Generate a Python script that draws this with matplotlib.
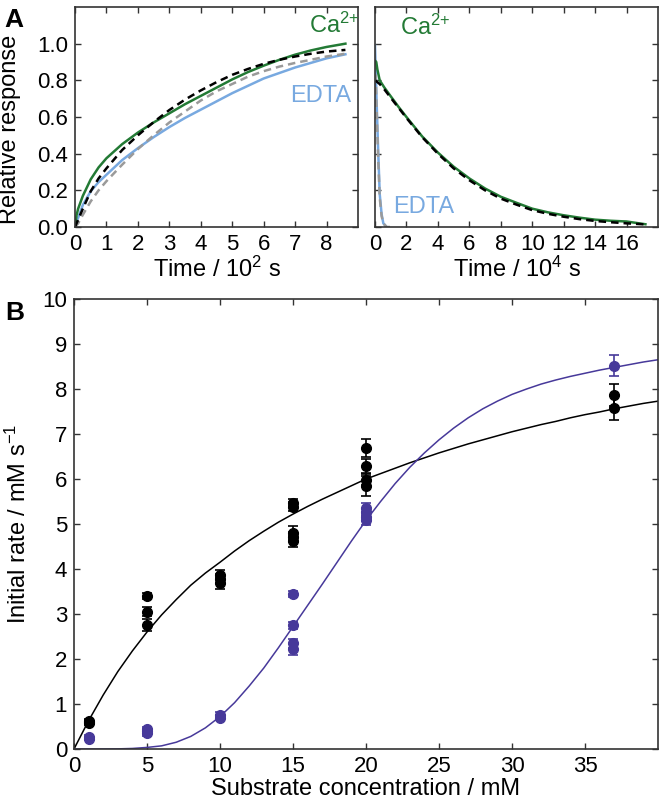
import matplotlib
matplotlib.use("Agg")
import matplotlib.pyplot as plt

plt.rcParams['font.family'] = ['Liberation Sans', 'DejaVu Sans']
plt.rcParams['mathtext.fontset'] = 'custom'
plt.rcParams['mathtext.rm'] = 'Liberation Sans'
plt.rcParams['mathtext.default'] = 'regular'

# panel A, left: association (time in 10^2 s)
t_on = [0, 0.05, 0.1, 0.25, 0.5, 0.75, 1, 1.5, 2, 2.5, 3, 3.5, 4, 4.5, 5, 5.5, 6, 6.5, 7, 7.5, 8, 8.6]
ca_on = [0, 0.065, 0.10, 0.17, 0.26, 0.325, 0.375, 0.452, 0.515, 0.57, 0.62, 0.67, 0.715, 0.76,
         0.805, 0.845, 0.88, 0.912, 0.94, 0.963, 0.982, 1.0]
ca_on_fit = [0, 0.02, 0.04, 0.10, 0.195, 0.265, 0.32, 0.42, 0.50, 0.572, 0.638, 0.695, 0.745, 0.79,
             0.83, 0.862, 0.89, 0.912, 0.93, 0.945, 0.957, 0.966]
edta_on = [0, 0.03, 0.05, 0.12, 0.195, 0.245, 0.285, 0.365, 0.43, 0.49, 0.545, 0.595, 0.64, 0.685,
           0.73, 0.77, 0.81, 0.84, 0.87, 0.895, 0.92, 0.942]
edta_on_fit = [0, 0.01, 0.02, 0.067, 0.14, 0.20, 0.25, 0.34, 0.425, 0.50, 0.57, 0.63, 0.69, 0.74,
               0.78, 0.82, 0.85, 0.875, 0.895, 0.912, 0.93, 0.945]

# panel A, right: dissociation (time in 10^4 s)
t_off = [0.03, 0.08, 0.15, 0.3, 0.6, 1, 1.5, 2, 3, 4, 5, 6, 7, 8, 9, 10, 11, 12, 13, 14, 15, 16, 17.2]
ca_off = [0.905, 0.90, 0.86, 0.80, 0.76, 0.713, 0.655, 0.60, 0.494, 0.406, 0.329, 0.265, 0.21, 0.165,
          0.132, 0.10, 0.08, 0.064, 0.051, 0.04, 0.034, 0.03, 0.015]
ca_off_fit = [0.80, 0.795, 0.79, 0.78, 0.75, 0.705, 0.65, 0.595, 0.49, 0.40, 0.32, 0.255, 0.20, 0.155,
              0.122, 0.092, 0.072, 0.056, 0.043, 0.033, 0.026, 0.02, 0.014]
t_edta_off = [0, 0.05, 0.1, 0.2, 0.3, 0.42, 0.53, 0.74, 0.95]
edta_off = [0.99, 0.85, 0.69, 0.42, 0.18, 0.07, 0.02, 0.0, -0.01]
edta_off_fit = [0.90, 0.80, 0.65, 0.38, 0.16, 0.06, 0.02, 0.0, 0.0]

# panel B: initial rates
conc_ca = [1, 1, 1, 5, 5, 5, 10, 10, 10, 15, 15, 15, 15, 15, 20, 20, 20, 20, 37, 37]
rate_ca = [0.62, 0.58, 0.60, 3.40, 3.05, 2.75, 3.87, 3.78, 3.68, 5.47, 5.38, 4.80, 4.72, 4.62,
           6.68, 6.29, 5.98, 5.84, 7.86, 7.57]
err_ca = [0.05, 0.05, 0.05, 0.06, 0.10, 0.13, 0.10, 0.10, 0.12, 0.08, 0.10, 0.15, 0.10, 0.12,
          0.20, 0.15, 0.12, 0.22, 0.24, 0.27]
conc_p = [1, 1, 5, 5, 5, 10, 10, 15, 15, 15, 15, 20, 20, 20, 20, 37]
rate_p = [0.27, 0.23, 0.45, 0.39, 0.35, 0.76, 0.70, 3.44, 2.75, 2.35, 2.22, 5.36, 5.26, 5.15, 5.08, 8.52]
err_p = [0.04, 0.04, 0.05, 0.05, 0.05, 0.06, 0.06, 0.07, 0.08, 0.10, 0.12, 0.10, 0.08, 0.08, 0.10, 0.24]

s_fit = list(range(0, 41))
fit_ca = [0, 0.63, 1.2, 1.72, 2.18, 2.6, 2.98, 3.32, 3.64, 3.91, 4.15, 4.4, 4.63, 4.84, 5.04,
          5.22, 5.39, 5.55, 5.7, 5.85, 6.0, 6.12, 6.24, 6.36, 6.47, 6.58, 6.68, 6.78, 6.87, 6.96,
          7.05, 7.13, 7.21, 7.28, 7.36, 7.43, 7.49, 7.56, 7.62, 7.68, 7.73]
fit_p = [0, 0, 0, 0.003, 0.012, 0.035, 0.07, 0.15, 0.28, 0.47, 0.72, 1.03, 1.4, 1.8, 2.25,
         2.72, 3.19, 3.66, 4.14, 4.62, 5.08, 5.5, 5.9, 6.26, 6.58, 6.87, 7.13, 7.36, 7.56, 7.73,
         7.88, 8.0, 8.11, 8.2, 8.28, 8.35, 8.42, 8.48, 8.54, 8.6, 8.65]

green = '#237a35'
blue = '#78a9e0'
gray = '#9a9a9a'
purple = '#47399a'

W, H = 659, 808
fig = plt.figure(figsize=(W / 100, H / 100), dpi=100)


def rect(l, t, r, b):
    return [l / W, 1 - b / H, (r - l) / W, (b - t) / H]


def style(ax, size):
    for s in ax.spines.values():
        s.set_color('#333333')
        s.set_linewidth(1.2)
    ax.tick_params(direction='in', top=True, right=True, length=4, width=1,
                   color='#333333', labelsize=size, pad=5)


ca_txt = 'Ca$^{2{+}}$'

axL = fig.add_axes(rect(75, 7, 358, 227))
axL.plot(t_on, edta_on, color=blue, lw=1.8)
axL.plot(t_on, edta_on_fit, color=gray, lw=1.8, dashes=(3, 2))
axL.plot(t_on, ca_on, color=green, lw=1.8)
axL.plot(t_on, ca_on_fit, color='black', lw=1.8, dashes=(3, 2))
axL.set_xlim(0, 9)
axL.set_ylim(0, 1.2)
axL.set_xticks(range(0, 9))
axL.set_yticks([0, 0.2, 0.4, 0.6, 0.8, 1.0])
axL.set_yticklabels(['0.0', '0.2', '0.4', '0.6', '0.8', '1.0'])
style(axL, 16)
axL.set_xlabel('Time / 10$^{2}$ s', fontsize=17, labelpad=1)
axL.set_ylabel('Relative response', fontsize=17)
axL.yaxis.set_label_coords(-0.19, 0.445)
axL.text(7.44, 1.10, ca_txt, color=green, fontsize=17, va='center')
axL.text(6.84, 0.716, 'EDTA', color=blue, fontsize=17, va='center')

axR = fig.add_axes(rect(375, 7, 658, 227))
axR.plot(t_edta_off, edta_off, color=blue, lw=1.8)
axR.plot(t_edta_off, edta_off_fit, color=gray, lw=1.8, dashes=(3, 2))
axR.plot(t_off, ca_off, color=green, lw=1.8)
axR.plot(t_off, ca_off_fit, color='black', lw=1.8, dashes=(3, 2))
axR.set_xlim(0, 18)
axR.set_ylim(0, 1.2)
axR.set_xticks(range(0, 18, 2))
axR.set_yticks([0, 0.2, 0.4, 0.6, 0.8, 1.0])
axR.set_yticklabels([])
style(axR, 16)
axR.set_xlabel('Time / 10$^{4}$ s', fontsize=17, labelpad=1)
axR.text(1.6, 1.09, ca_txt, color=green, fontsize=17, va='center')
axR.text(1.15, 0.11, 'EDTA', color=blue, fontsize=17, va='center')

axB = fig.add_axes(rect(74, 299, 658, 749))
axB.plot(s_fit, fit_ca, color='black', lw=1.1)
axB.plot(s_fit, fit_p, color=purple, lw=1.1)
axB.errorbar(conc_ca, rate_ca, yerr=err_ca, fmt='o', color='black', ms=7, capsize=3.5,
             elinewidth=1.2, capthick=1.2)
axB.errorbar(conc_p, rate_p, yerr=err_p, fmt='o', color=purple, ms=7, capsize=3.5,
             elinewidth=1.2, capthick=1.2)
axB.set_xlim(0, 40)
axB.set_ylim(0, 10)
axB.set_xticks(range(0, 40, 5))
axB.set_yticks(range(0, 11))
style(axB, 16)
axB.set_xlabel('Substrate concentration / mM', fontsize=17, labelpad=1)
axB.set_ylabel('Initial rate / mM s$^{-1}$', fontsize=17, labelpad=8)

fig.text(4 / W, 1 - 8 / H, 'A', fontsize=19, fontweight='bold', va='top')
fig.text(5 / W, 1 - 301 / H, 'B', fontsize=19, fontweight='bold', va='top')

fig.savefig('out.png', dpi=100)
